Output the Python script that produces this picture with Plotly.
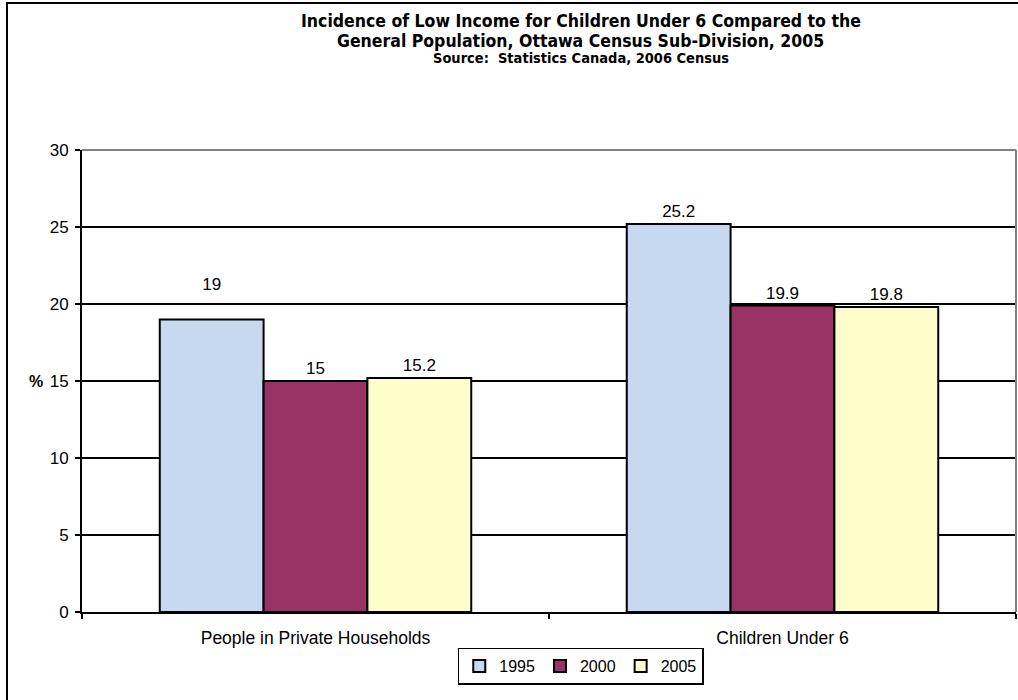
import plotly.graph_objects as go

categories = ["People in Private Households", "Children Under 6"]
years = ["1995", "2000", "2005"]
values_1995 = [19, 25.2]
values_2000 = [15, 19.9]
values_2005 = [15.2, 19.8]
colors = ["#C6D9F0", "#993366", "#FFFFCC"]
y_ticks = [0, 5, 10, 15, 20, 25, 30]
title_lines = [
    "Incidence of Low Income for Children Under 6 Compared to the",
    "General Population, Ottawa Census Sub-Division, 2005",
    "Source:  Statistics Canada, 2006 Census",
]

BODY = "Liberation Sans, Arial, sans-serif"
TITLE = "DejaVu Sans Condensed, Liberation Sans, Arial, sans-serif"

fig = go.Figure()
for name, vals, col in zip(years, [values_1995, values_2000, values_2005], colors):
    texts = [str(v) for v in vals]
    if name == "1995":
        texts[0] = texts[0] + "<br> "
    fig.add_trace(go.Bar(
        name=name, x=categories, y=vals,
        marker=dict(color=col, line=dict(color="black", width=2)),
        text=texts, textposition="outside",
        textfont=dict(family=BODY, size=17, color="black"),
        cliponaxis=False,
    ))

fig.update_layout(
    width=1018, height=700,
    barmode="group", bargap=0.333, bargroupgap=0,
    paper_bgcolor="white", plot_bgcolor="white",
    margin=dict(l=82, r=2, t=150, b=88, autoexpand=False),
    font=dict(family=BODY, size=17, color="black"),
    legend=dict(
        orientation="h", x=0.534, xanchor="center", y=-0.077, yanchor="top",
        bordercolor="black", borderwidth=1.5, bgcolor="white",
        font=dict(family=BODY, size=16), itemwidth=30,
    ),
    showlegend=True,
)

fig.update_yaxes(
    range=[0, 30], tickvals=y_ticks, ticktext=[str(t) for t in y_ticks],
    showgrid=True, gridcolor="black", gridwidth=1.5,
    showline=True, linecolor="black", linewidth=2,
    ticks="outside", ticklen=5, tickcolor="black", tickwidth=2,
    zeroline=False, tickfont=dict(family=BODY, size=17), automargin=False,
    ticklabelstandoff=3,
)
fig.update_xaxes(
    showline=True, linecolor="black", linewidth=2,
    ticks="outside", tickson="boundaries", ticklen=5, tickcolor="black", tickwidth=2,
    tickfont=dict(family=BODY, size=17.5), showgrid=False, automargin=False,
    ticklabelstandoff=9,
)

# plot-area border (gray) on top and right
fig.add_shape(type="line", xref="paper", yref="paper", x0=0, y0=1, x1=1, y1=1,
              line=dict(color="#808080", width=2), layer="above")
fig.add_shape(type="line", xref="paper", yref="paper", x0=1, y0=0, x1=1, y1=1,
              line=dict(color="#808080", width=2), layer="above")
# outer chart border
fig.add_shape(type="rect", xref="paper", yref="paper", x0=-0.0803, y0=-0.2, x1=1.006, y1=1.318,
              line=dict(color="black", width=2), layer="below")

# title lines (pixel y 21, 40.5, 58 -> paper)
for txt, ypos, sz in zip(title_lines, [1.279, 1.237, 1.199], [17.5, 17.5, 14.5]):
    fig.add_annotation(text="<b>" + txt + "</b>", xref="paper", yref="paper",
                       x=0.534, y=ypos, xanchor="center", yanchor="middle",
                       showarrow=False, font=dict(family=TITLE, size=sz, color="black"))

fig.add_annotation(text="<b>%</b>", xref="paper", yref="y", x=-0.04, y=15,
                   xanchor="right", showarrow=False, font=dict(family=BODY, size=16))

fig.write_html("out.html", config={"displayModeBar": False},
               post_script="document.body.style.margin='0px';")
